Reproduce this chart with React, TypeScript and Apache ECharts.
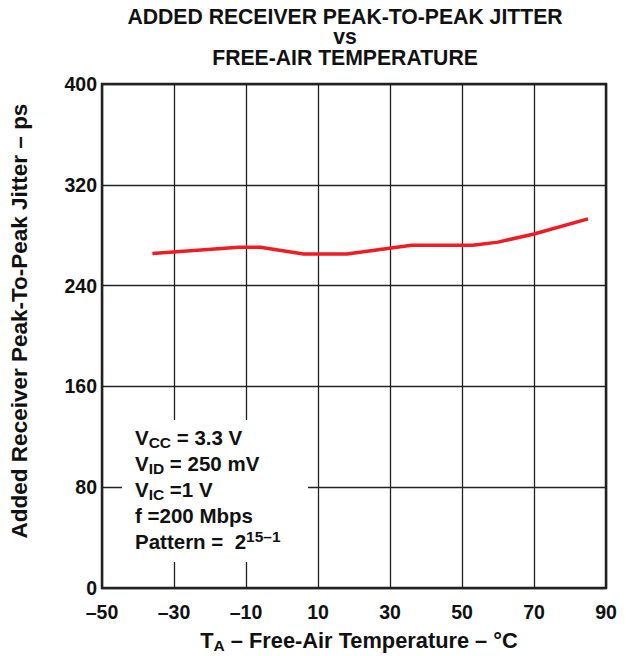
import React, { useEffect, useRef } from "react";
import * as echarts from "echarts";

const temperatures = [-36, -12, -6, 6, 18, 36, 53, 60, 70, 85];
const jitter = [265.5, 270.5, 270.5, 265, 265, 272, 272, 274.5, 281, 293];
const titleLines = ["ADDED RECEIVER PEAK-TO-PEAK JITTER", "vs", "FREE-AIR TEMPERATURE"];
const xMin = -50;
const xMax = 90;
const xStep = 20;
const yMin = 0;
const yMax = 400;
const yStep = 80;
const conditionLines = [
  "{b|V}{sub|CC}{b| = 3.3 V}",
  "{b|V}{sub|ID}{b| = 250 mV}",
  "{b|V}{sub|IC}{b| =1 V}",
  "{b|f =200 Mbps}",
  "{b|Pattern =  2}{sup|15–1}",
];

const FONT = "'Liberation Sans', Arial, Helvetica, sans-serif";
const INK = "#111";

export default function App() {
  const ref = useRef<HTMLDivElement>(null);
  useEffect(() => {
    if (!ref.current) return;
    const chart = echarts.init(ref.current, undefined, { renderer: "svg" });
    const data = temperatures.map((t, i) => [t, jitter[i]]);
    chart.setOption({
      animation: false,
      backgroundColor: "#fff",
      grid: { left: 102, right: 20, top: 84, bottom: 68, show: true, borderColor: "#222", borderWidth: 2.5, backgroundColor: "transparent" },
      xAxis: {
        type: "value",
        min: xMin,
        max: xMax,
        interval: xStep,
        axisLine: { show: false },
        axisTick: { show: false },
        splitLine: { show: true, lineStyle: { color: "#222", width: 1.3 } },
        axisLabel: {
          margin: 14,
          color: INK,
          fontFamily: FONT,
          fontWeight: "bold",
          fontSize: 19.5,
          formatter: (v: number) => (v < 0 ? "–" + Math.abs(v) : String(v)),
        },
      },
      yAxis: {
        type: "value",
        min: yMin,
        max: yMax,
        interval: yStep,
        axisLine: { show: false },
        axisTick: { show: false },
        splitLine: { show: true, lineStyle: { color: "#222", width: 1.3 } },
        axisLabel: { margin: 5, color: INK, fontFamily: FONT, fontWeight: "bold", fontSize: 19.5 },
      },
      series: [
        {
          type: "line",
          data,
          showSymbol: false,
          smooth: false,
          lineStyle: { color: "#ee1c25", width: 3.5 },
          z: 3,
        },
      ],
      graphic: [
        ...titleLines.map((t, i) => ({
          type: "text",
          x: 345,
          y: 16 + i * 20.8,
          style: {
            text: t,
            fontFamily: FONT,
            fontWeight: "bold",
            fontSize: 21.2,
            fill: INK,
            align: "center",
            verticalAlign: "middle",
          },
        })),
        {
          type: "text",
          x: 19,
          y: 321,
          rotation: Math.PI / 2,
          style: {
            text: "Added Receiver Peak-To-Peak Jitter – ps",
            fontFamily: FONT,
            fontWeight: "bold",
            fontSize: 22.5,
            fill: INK,
            align: "center",
            verticalAlign: "middle",
          },
        },
        {
          type: "text",
          x: 359,
          y: 640,
          style: {
            text: "{b|T}{sub|A}{b| – Free-Air Temperature – °C}",
            fontFamily: FONT,
            align: "center",
            verticalAlign: "middle",
            rich: {
              b: { fontFamily: FONT, fontWeight: "bold", fontSize: 21.8, fill: INK, lineHeight: 26 },
              sub: { fontFamily: FONT, fontWeight: "bold", fontSize: 15.5, fill: INK, lineHeight: 8, verticalAlign: "bottom" },
            },
          },
        },
        {
          type: "rect",
          shape: { x: 122, y: 420, width: 186, height: 142 },
          style: { fill: "#fff" },
          z: 10,
        },
        {
          type: "text",
          x: 135,
          y: 424,
          z: 11,
          style: {
            text: conditionLines.join("\n"),
            fontFamily: FONT,
            align: "left",
            verticalAlign: "top",
            rich: {
              b: { fontFamily: FONT, fontWeight: "bold", fontSize: 20.5, fill: INK, lineHeight: 26 },
              sub: { fontFamily: FONT, fontWeight: "bold", fontSize: 15.5, fill: INK, lineHeight: 8, verticalAlign: "bottom" },
              sup: { fontFamily: FONT, fontWeight: "bold", fontSize: 15.5, fill: INK, lineHeight: 14, verticalAlign: "top" },
            },
          },
        },
      ],
    });
    return () => chart.dispose();
  }, []);
  return (
    <div
      ref={ref}
      style={{ position: "absolute", left: 0, top: 0, width: 626, height: 656, background: "#fff" }}
    />
  );
}
